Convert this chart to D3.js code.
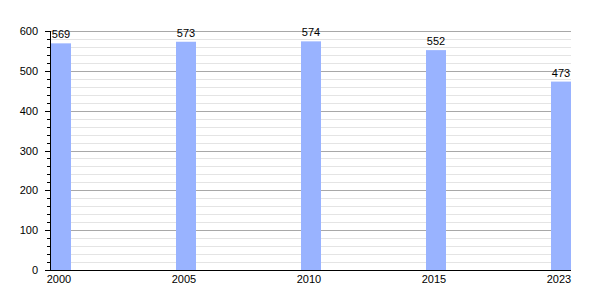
<!DOCTYPE html>
<html>
<head>
<meta charset="utf-8">
<script src="https://cdn.jsdelivr.net/npm/d3@7"></script>
<style>
  body { margin: 0; background: #fff; }
  text { font-family: "Liberation Sans", Arial, sans-serif; font-size: 11px; fill: #000; }
</style>
</head>
<body>
<svg id="chart" width="600" height="300"></svg>
<script>
const years = ["2000", "2005", "2010", "2015", "2023"];
const population = [569, 573, 574, 552, 473];
const yTicks = [0, 100, 200, 300, 400, 500, 600];

const svg = d3.select("#chart");
const plotLeft = 50, plotRight = 571, plotTop = 31, plotBottom = 270;
const barWidth = 20;

const x = d3.scalePoint().domain(years).range([plotLeft + 1 + barWidth / 2, plotRight - barWidth / 2]);
const y = d3.scaleLinear().domain([0, 600]).range([plotBottom, plotTop]);

const minor = d3.range(0, 601, 20).filter(v => v % 100 != 0);

// minor gridlines
svg.append("g")
  .selectAll("line")
  .data(minor)
  .join("line")
  .attr("x1", plotLeft).attr("x2", plotRight)
  .attr("y1", d => Math.round(y(d)) + 0.5).attr("y2", d => Math.round(y(d)) + 0.5)
  .style("stroke", "#e4e4e4");

// major gridlines
svg.append("g")
  .selectAll("line")
  .data(yTicks.filter(v => v > 0))
  .join("line")
  .attr("x1", plotLeft).attr("x2", plotRight)
  .attr("y1", d => Math.round(y(d)) + 0.5).attr("y2", d => Math.round(y(d)) + 0.5)
  .style("stroke", "#a8a8a8");

// bars
svg.append("g")
  .selectAll("rect")
  .data(years)
  .join("rect")
  .attr("x", d => x(d) - barWidth / 2)
  .attr("width", barWidth)
  .attr("y", (d, i) => y(population[i]))
  .attr("height", (d, i) => plotBottom - y(population[i]))
  .attr("fill", "#99b3ff");

// value labels
svg.append("g")
  .selectAll("text")
  .data(years)
  .join("text")
  .attr("x", d => x(d))
  .attr("y", (d, i) => y(population[i]) - 5)
  .attr("text-anchor", "middle")
  .text((d, i) => population[i]);

// y axis with minor ticks
const axis = svg.append("g");
axis.append("line")
  .attr("x1", plotLeft + 0.5).attr("x2", plotLeft + 0.5)
  .attr("y1", plotTop).attr("y2", plotBottom + 1)
  .style("stroke", "#000");
axis.selectAll(".minor")
  .data(minor)
  .join("line")
  .attr("class", "minor")
  .attr("x1", plotLeft - 3).attr("x2", plotLeft)
  .attr("y1", d => Math.round(y(d)) + 0.5).attr("y2", d => Math.round(y(d)) + 0.5)
  .style("stroke", "#000");
axis.selectAll(".major")
  .data(yTicks)
  .join("line")
  .attr("class", "major")
  .attr("x1", plotLeft - 5).attr("x2", plotLeft)
  .attr("y1", d => Math.round(y(d)) + 0.5).attr("y2", d => Math.round(y(d)) + 0.5)
  .style("stroke", "#000");
axis.selectAll("text")
  .data(yTicks)
  .join("text")
  .attr("x", plotLeft - 12)
  .attr("y", d => y(d) + 4)
  .attr("text-anchor", "end")
  .text(d => d);

// x axis
svg.append("line")
  .attr("x1", plotLeft).attr("x2", plotRight)
  .attr("y1", plotBottom + 0.5).attr("y2", plotBottom + 0.5)
  .style("stroke", "#000");
svg.append("g")
  .selectAll("text")
  .data(years)
  .join("text")
  .attr("x", d => x(d) - 2)
  .attr("y", plotBottom + 13)
  .attr("text-anchor", "middle")
  .text(d => d);
</script>
</body>
</html>
